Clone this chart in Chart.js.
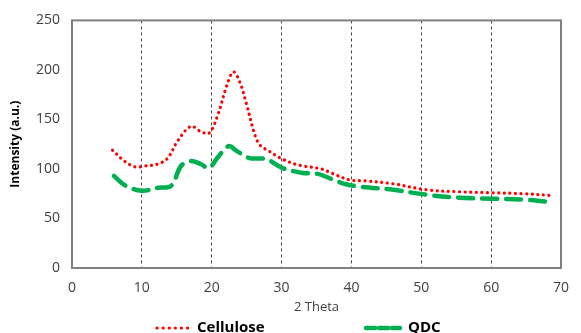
<!DOCTYPE html>
<html><head><meta charset="utf-8">
<script src="https://cdn.jsdelivr.net/npm/chart.js@4"></script>
<style>html,body{margin:0;padding:0;background:#fff}#wrap{width:581px;height:333px}</style>
</head><body><div id="wrap"><canvas id="c" width="581" height="333"></canvas></div>
<script>
const cellX = [5.8, 7.5, 9.1, 10.5, 12.3, 13.7, 15.1, 17.0, 18.4, 19.6, 20.8, 22.2, 23.1, 24.0, 25.0, 25.9, 26.8, 28.2, 30.1, 32.4, 35.7, 37.1, 39.7, 41.8, 46.0, 50.7, 55.4, 60.0, 64.7, 68.9];
const cellY = [119, 108, 102, 103, 105, 111, 128, 143, 138, 136, 153, 185, 198, 188, 165, 141, 125, 118, 110, 104, 100, 96, 89, 88, 85, 79, 77, 76, 75, 73];
const qdcX = [6.0, 7.7, 10.0, 12.3, 14.2, 15.6, 17.0, 18.4, 19.6, 20.8, 22.4, 23.6, 25.4, 27.8, 30.1, 33.0, 35.2, 37.1, 39.0, 41.3, 46.0, 50.7, 55.4, 60.0, 64.7, 68.0];
const qdcY = [93, 83, 78, 81, 83, 103, 108, 105, 101, 111, 123, 118, 111, 110, 101, 96, 95, 90, 85, 82, 79, 74, 71, 70, 69, 67];
const seriesNames = ['Cellulose', 'QDC'];
const xTicks = [0, 10, 20, 30, 40, 50, 60, 70];
const yTicks = [0, 50, 100, 150, 200, 250];

const toPts = (xs, ys) => xs.map((x, i) => ({x, y: ys[i]}));
const textColor = '#404040';

const frame = {
  id: 'frame',
  afterDraw(chart) {
    const {ctx, chartArea: a} = chart;
    ctx.save();
    ctx.strokeStyle = '#7f7f7f';
    ctx.lineWidth = 2;
    ctx.setLineDash([]);
    ctx.strokeRect(a.left, a.top, a.right - a.left, a.bottom - a.top);
    // legend
    const ds = chart.data.datasets;
    const items = [{x0: 157, x1: 193, tx: 197}, {x0: 366, x1: 400, tx: 408}];
    const ly = 328;
    ds.forEach((d, i) => {
      const it = items[i];
      ctx.beginPath();
      ctx.strokeStyle = d.borderColor;
      ctx.lineWidth = d.borderWidth;
      ctx.lineCap = d.borderCapStyle;
      ctx.setLineDash(i === 0 ? [0.1, 6] : [9, 4]);
      ctx.moveTo(it.x0, ly);
      ctx.lineTo(it.x1, ly);
      ctx.stroke();
      ctx.setLineDash([]);
      ctx.fillStyle = '#000';
      ctx.font = 'bold 15px "Open Sans", sans-serif';
      ctx.textBaseline = 'middle';
      ctx.fillText(d.label, it.tx, ly);
    });
    ctx.restore();
  }
};

new Chart(document.getElementById('c'), {
  type: 'line',
  data: {
    datasets: [
      {label: seriesNames[0], data: toPts(cellX, cellY), borderColor: '#ff0000', borderWidth: 3.2,
       borderDash: [0.1, 5.5], borderCapStyle: 'round', pointRadius: 0, tension: 0.35, fill: false},
      {label: seriesNames[1], data: toPts(qdcX, qdcY), borderColor: '#00b050', borderWidth: 4.5,
       borderDash: [15, 9], borderCapStyle: 'round', pointRadius: 0, tension: 0.35, fill: false}
    ]
  },
  options: {
    responsive: false,
    animation: false,
    devicePixelRatio: 1,
    layout: {padding: {top: 18, right: 10, left: 0, bottom: 0}},
    plugins: {legend: {display: false}, tooltip: {enabled: false}},
    scales: {
      x: {
        type: 'linear', min: 0, max: 70,
        afterBuildTicks: s => { s.ticks = xTicks.map(v => ({value: v})); },
        afterFit: s => { s.height = 65; },
        ticks: {color: textColor, font: {size: 14, family: '"Open Sans", sans-serif'}, padding: 12},
        grid: {display: true, color: '#444', lineWidth: 1, drawTicks: false, borderDash: [3, 3]},
        border: {display: true, color: '#7f7f7f', width: 1, dash: [3, 3]},
        title: {display: true, text: '2 Theta', color: textColor, font: {size: 13, family: '"Open Sans", sans-serif'}, padding: {top: 0, bottom: 18}}
      },
      y: {
        min: 0, max: 250,
        afterBuildTicks: s => { s.ticks = yTicks.map(v => ({value: v})); },
        afterFit: s => { s.width = 72; },
        ticks: {color: textColor, font: {size: 14, family: '"Open Sans", sans-serif'}, padding: 12},
        grid: {display: false, drawTicks: false},
        border: {display: false},
        title: {display: true, text: 'Intensity (a.u.)', color: '#000', font: {size: 12, weight: 'bold', family: '"Open Sans", sans-serif'}, padding: {top: 8, bottom: 0}}
      }
    }
  },
  plugins: [frame]
});
</script>
</body></html>
